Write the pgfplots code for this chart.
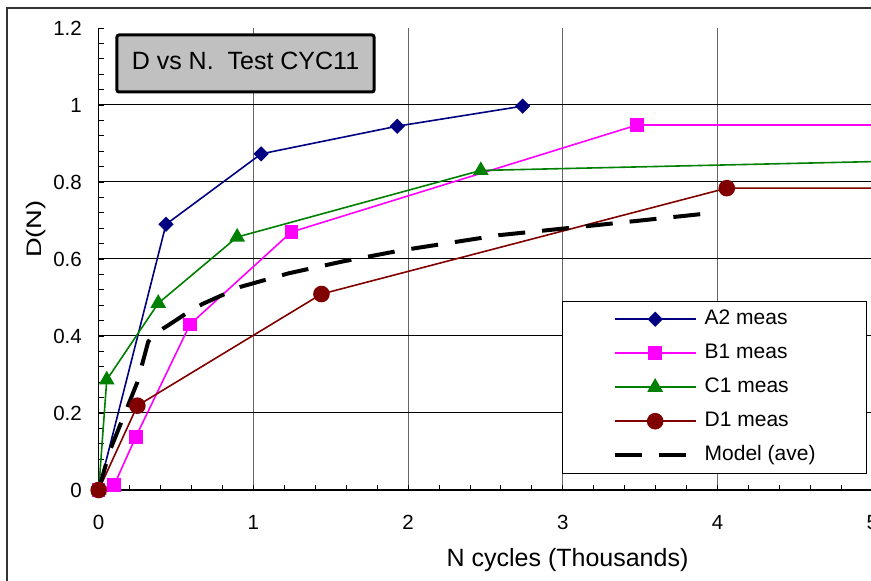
\documentclass[border=0pt]{standalone}
\usepackage{fontspec}
\setmainfont{Liberation Sans}
\newfontfamily\widefont[FakeStretch=1.3]{Liberation Sans}
\usepackage{pgfplots}
\pgfplotsset{compat=1.18}

\definecolor{serA}{RGB}{0,0,128}
\definecolor{serB}{RGB}{255,0,255}
\definecolor{serC}{RGB}{0,128,0}
\definecolor{serD}{RGB}{128,0,0}
\definecolor{titlegray}{RGB}{192,192,192}

\begin{document}
\begin{tikzpicture}
% chart frame (only left and top edges end up inside the crop)
\draw[line width=2pt, black!80] (-92pt,-140pt) rectangle (900pt,482pt);

\begin{axis}[
  at={(0pt,0pt)}, anchor=south west,
  scale only axis, width=928.2pt, height=462pt,
  xmin=0, xmax=6, ymin=0, ymax=1.2,
  axis x line*=bottom, axis y line*=left,
  axis line style={line width=1.3pt, black},
  xtick={0,1,2,3,4,5,6},
  ytick={0,0.2,0.4,0.6,0.8,1},
  extra y ticks={1.2}, extra y tick style={grid=none},
  minor x tick num=4,
  minor ytick={0.04,0.08,0.12,0.16,0.24,0.28,0.32,0.36,0.44,0.48,0.52,0.56,
               0.64,0.68,0.72,0.76,0.84,0.88,0.92,0.96,1.04,1.08,1.12,1.16},
  tick align=inside,
  major tick length=5pt, minor tick length=5pt,
  every tick/.style={black, line width=0.9pt},
  grid=major,
  major x grid style={black!60, line width=1.2pt},
  major y grid style={black, line width=1pt},
  /pgf/number format/assume math mode=true,
  tick label style={font=\fontsize{20.5}{24}\selectfont},
  xticklabel style={inner sep=0pt, anchor=north, yshift=-25pt},
  yticklabel style={inner sep=0pt, anchor=east, xshift=-16.7pt},
  xlabel={N cycles (Thousands)},
  xlabel style={font=\fontsize{25}{30}\selectfont, at={(rel axis cs:0.50506,-0.15152)}, anchor=center},
  ylabel={\widefont D(N)},
  ylabel style={font=\fontsize{21}{25}\selectfont, at={(rel axis cs:-0.06733,0.5649)}, anchor=center},
  legend cell align=left,
  legend image code/.code={\draw[mark repeat=2,mark phase=2] plot coordinates {(0pt,0pt) (40.5pt,0pt) (81pt,0pt)};},
  legend style={at={(rel axis cs:0.4988,0.4097)}, anchor=north west,
    draw=black, line width=1pt, fill=white,
    inner xsep=50.5pt, inner ysep=8pt, row sep=14pt, column sep=7pt,
    font=\fontsize{21}{25}\selectfont,
    nodes={inner sep=0pt, text height=15pt, text depth=5pt}},
]

\addplot[color=serA, line width=1.6pt, mark=diamond*, mark size=6.5pt, mark options={solid, xscale=1.33}]
  coordinates {(0,0) (0.435,0.69) (1.05,0.873) (1.93,0.945) (2.74,0.997)};
\addlegendentry{A2 meas}

\addplot[color=serB, line width=1.6pt, mark=square*, mark size=6pt, mark options={solid}]
  coordinates {(0,0) (0.1,0.013) (0.24,0.138) (0.59,0.43) (1.245,0.67) (3.48,0.948) (6,0.948)};
\addlegendentry{B1 meas}

\addplot[color=serC, line width=1.6pt, mark=triangle*, mark size=7.5pt, mark options={solid}]
  coordinates {(0,0) (0.052,0.286) (0.385,0.485) (0.895,0.657) (2.47,0.83) (6,0.862)};
\addlegendentry{C1 meas}

\addplot[color=serD, line width=1.6pt, mark=*, mark size=7.5pt, mark options={solid}]
  coordinates {(0,0) (0.25,0.219) (1.44,0.509) (4.06,0.784) (6,0.784)};
\addlegendentry{D1 meas}

\addplot[black, line width=4pt, dash pattern=on 27pt off 17pt, no marks]
  coordinates {(0,0) (0.07,0.10) (0.19,0.22) (0.25,0.28) (0.32,0.385) (0.36,0.405)
    (0.45,0.428) (0.56,0.457) (0.67,0.483) (0.92,0.528) (1.23,0.563) (1.57,0.593)
    (1.95,0.622) (2.59,0.662) (3.22,0.688) (3.95,0.719)};
\addlegendentry{Model (ave)}
\end{axis}

\node[draw=black, line width=3pt, fill=titlegray, rounded corners=2pt,
      minimum width=257pt, minimum height=57pt, inner sep=0pt,
      text height=18pt, text depth=6pt,
      font=\fontsize{25}{30}\selectfont] at (146.8pt,426.5pt) {D vs N.\ \ Test CYC11};

\pgfresetboundingbox
\path[use as bounding box] (-98.7pt,-91pt) rectangle (772.3pt,490pt);
\end{tikzpicture}
\end{document}
